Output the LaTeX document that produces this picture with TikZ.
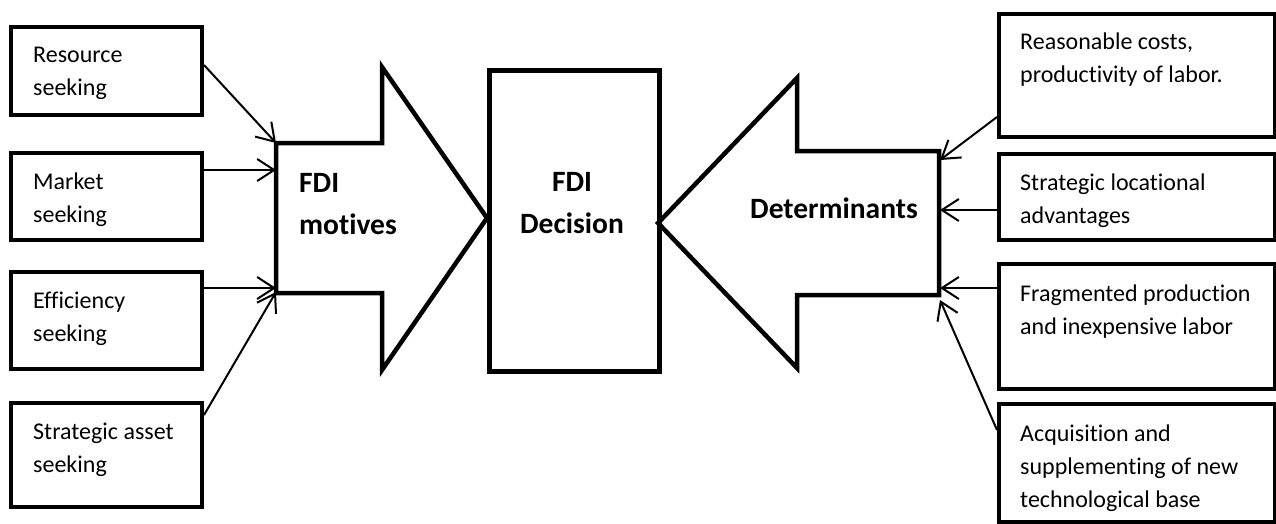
\documentclass[tikz,border=0pt]{standalone}
\usepackage{fontspec}
\setmainfont{Carlito}[Ligatures=NoCommon]
\usetikzlibrary{arrows.meta,positioning,calc}

\begin{document}
\begin{tikzpicture}[x=1pt, y=-1pt,
    box/.style={draw, rectangle, line width=4pt, anchor=north west, inner sep=0pt},
    txt/.style={anchor=north west, inner sep=0pt, align=left,
                font=\fontsize{24}{33}\selectfont},
    big/.style={draw, line width=4.5pt, line join=miter},
    bold/.style={inner sep=0pt, align=center,
                 font=\fontsize{29.5}{42}\selectfont\bfseries},
    conn/.style={-{Straight Barb[length=17pt, width=22pt]}, line width=2pt}
]
\useasboundingbox (0,0) rectangle (1276,523);

% --- motives ---
\node[box, minimum width=191pt, minimum height=88pt]  (res) at (9,25)  {};
\node[box, minimum width=191pt, minimum height=87pt]  (mkt) at (9,151) {};
\node[box, minimum width=191pt, minimum height=97pt]  (eff) at (9,270) {};
\node[box, minimum width=191pt, minimum height=104pt] (ast) at (9,401) {};

\node[txt] (res-t) at ([shift={(24pt,-22pt)}]res.north west) {Resource\\seeking};
\node[txt] (mkt-t) at ([shift={(24pt,-22pt)}]mkt.north west) {Market\\seeking};
\node[txt] (eff-t) at ([shift={(24pt,-22pt)}]eff.north west) {Efficiency\\seeking};
\node[txt] (ast-t) at ([shift={(24pt,-22pt)}]ast.north west) {Strategic asset\\seeking};

% --- determinants ---
\node[box, minimum width=276pt, minimum height=123pt] (cost) at (997,12)  {};
\node[box, minimum width=276pt, minimum height=86pt]  (loc)  at (997,152) {};
\node[box, minimum width=276pt, minimum height=125pt] (frag) at (997,262) {};
\node[box, minimum width=276pt, minimum height=118pt] (acq)  at (997,402) {};

\node[txt] (cost-t) at ([shift={(23pt,-21pt)}]cost.north west) {Reasonable costs,\\productivity of labor.};
\node[txt] (loc-t)  at ([shift={(23pt,-22pt)}]loc.north west)  {Strategic locational\\advantages};
\node[txt] (frag-t) at ([shift={(23pt,-23pt)}]frag.north west) {Fragmented production\\and inexpensive labor};
\node[txt] (acq-t)  at ([shift={(23pt,-23pt)}]acq.north west)  {Acquisition and\\supplementing of new\\technological base};

% --- big arrows ---
\draw[big] (276,143) -- (382,143) -- (382,67) -- (487,218) -- (382,370) -- (382,293) -- (276,293) -- cycle;
\draw[big] (939,151) -- (797,151) -- (797,78) -- (658,223) -- (797,368) -- (797,295) -- (939,295) -- cycle;

\node[bold, anchor=north west, align=left] (motives) at (299,173) {FDI\\motives};
\node[bold, anchor=base west] (determ) at (750,218) {Determinants};

% --- decision ---
\node[box, line width=4.5pt, minimum width=170pt, minimum height=301pt] (dec) at (487,68) {};
\node[bold] (dec-t) at (572,203) {FDI\\Decision};

% --- connectors ---
\coordinate (m1) at (276,143);
\coordinate (m2) at (276,170);
\coordinate (m3) at (276,288);
\coordinate (m4) at (276,292);
\coordinate (d1) at (940,160);
\coordinate (d2) at (940,210);
\coordinate (d3) at (940,288);
\coordinate (d4) at (940,300);

\draw[conn] ([yshift=6pt]res.east) -- (m1);
\draw[conn] (mkt.east |- m2) -- (m2);
\draw[conn] (eff.east |- m3) -- (m3);
\draw[conn] ([yshift=-14pt]ast.north east) -- (m4);

\draw[conn] ([yshift=22pt]cost.south west) -- (d1);
\draw[conn] (loc.west |- d2) -- (d2);
\draw[conn] (frag.west |- d3) -- (d3);
\draw[conn] ([yshift=-28pt]acq.north west) -- (d4);

\end{tikzpicture}
\end{document}
